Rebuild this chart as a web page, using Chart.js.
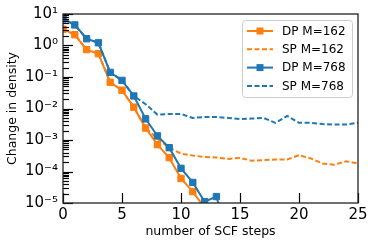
<!DOCTYPE html>
<html>
<head>
<meta charset="utf-8">
<script src="https://cdn.jsdelivr.net/npm/chart.js@4/dist/chart.umd.min.js"></script>
<style>
html, body { margin: 0; padding: 0; background: #fff; }
#wrap { width: 374px; height: 246px; }
</style>
</head>
<body>
<div id="wrap"><canvas id="scfChart"></canvas></div>
<script>
// values (change in density per SCF step)
const steps = [0, 1, 2, 3, 4, 5, 6, 7, 8, 9, 10, 11, 12, 13, 14, 15, 16, 17, 18, 19, 20, 21, 22, 23, 24, 25];
const dpM162 = [3.3, 2.2, 0.74, 0.55, 0.068, 0.038, 0.011, 0.0024, 7.1e-4, 2.75e-4, 6e-5, 2.3e-5, 7e-6];
const spM162 = [3.3, 2.2, 0.74, 0.55, 0.068, 0.038, 0.011, 0.0024, 1.1e-3, 5.7e-4, 3.7e-4, 3.2e-4, 2.9e-4,
    2.8e-4, 2.5e-4, 2.7e-4, 2.2e-4, 2.3e-4, 2.4e-4, 2.4e-4, 3.3e-4, 2.6e-4, 1.8e-4, 1.65e-4, 2.1e-4, 1.8e-4];
const dpM768 = [7.0, 4.5, 1.64, 1.22, 0.14, 0.078, 0.025, 0.0047, 1.35e-3, 5.7e-4, 1.26e-4, 4.5e-5, 1.1e-5, 1.6e-5, 8e-7];
const spM768 = [7.0, 4.5, 1.64, 1.22, 0.14, 0.078, 0.025, 0.0137, 0.0064, 0.0067, 0.0067, 0.0050, 0.0054,
    0.0054, 0.0050, 0.0046, 0.0048, 0.0050, 0.0035, 0.0058, 0.0035, 0.0035, 0.0032, 0.0031, 0.0031, 0.0035];
const xTicks = [0, 5, 10, 15, 20, 25];
const yDecades = [-5, -4, -3, -2, -1, 0, 1];
const supDigits = { '-': '⁻', '0': '⁰', '1': '¹', '2': '²', '3': '³', '4': '⁴', '5': '⁵' };

const ORANGE = '#ff7f0e';
const BLUE = '#1f77b4';
const FONT = "'DejaVu Sans', sans-serif";

function toPoints(values) {
    return values.map((v, i) => ({ x: steps[i], y: v }));
}

// inward tick marks + closed frame, like the matplotlib original
const frameAndTicks = {
    id: 'frameAndTicks',
    afterDraw(chart) {
        const ctx = chart.ctx;
        const area = chart.chartArea;
        const xs = chart.scales.x;
        const ys = chart.scales.y;
        ctx.save();
        ctx.strokeStyle = '#000';
        ctx.lineWidth = 1.2;
        ys.ticks.forEach(t => {
            const py = Math.round(ys.getPixelForValue(t.value)) + 0.5;
            const major = Math.abs(Math.log10(t.value) - Math.round(Math.log10(t.value))) < 1e-9;
            ctx.beginPath();
            ctx.moveTo(area.left, py);
            ctx.lineTo(area.left + (major ? 10 : 6), py);
            ctx.stroke();
        });
        xs.ticks.forEach(t => {
            const px = Math.round(xs.getPixelForValue(t.value)) + 0.5;
            ctx.beginPath();
            ctx.moveTo(px, area.bottom);
            ctx.lineTo(px, area.bottom - 10);
            ctx.stroke();
        });
        ctx.lineWidth = 1.3;
        ctx.strokeStyle = '#222';
        ctx.strokeRect(area.left, area.top, area.right - area.left, area.bottom - area.top);
        ctx.restore();
    }
};

// legend box drawn in the upper right of the plot area
const boxLegend = {
    id: 'boxLegend',
    afterDraw(chart) {
        const ctx = chart.ctx;
        const area = chart.chartArea;
        const right = area.right - 6;
        const top = area.top + 6;
        const w = 110, h = 77;
        const left = right - w;
        ctx.save();
        ctx.fillStyle = 'rgba(255,255,255,0.85)';
        ctx.strokeStyle = '#cccccc';
        ctx.lineWidth = 1;
        ctx.beginPath();
        ctx.roundRect(left + 0.5, top + 0.5, w, h, 3);
        ctx.fill();
        ctx.stroke();
        ctx.font = '12px ' + FONT;
        ctx.textBaseline = 'middle';
        ctx.fillStyle = '#000';
        chart.data.datasets.slice().reverse().forEach((ds, i) => {
            const cy = top + 11 + i * 18.3;
            ctx.strokeStyle = ds.borderColor;
            ctx.lineWidth = ds.borderWidth;
            ctx.setLineDash(ds.borderDash || []);
            ctx.beginPath();
            ctx.moveTo(left + 5, cy);
            ctx.lineTo(left + 31, cy);
            ctx.stroke();
            ctx.setLineDash([]);
            if (ds.pointRadius > 0) {
                ctx.fillStyle = ds.borderColor;
                ctx.fillRect(left + 18 - 3.5, cy - 3.5, 7, 7);
            }
            ctx.fillStyle = '#000';
            ctx.fillText(ds.label, left + 40, cy + 0.5);
        });
        ctx.restore();
    }
};

function lineSet(label, values, color, dashed, order) {
    return {
        label: label,
        data: toPoints(values),
        borderColor: color,
        backgroundColor: color,
        borderWidth: 2,
        borderDash: dashed ? [5, 2.5] : [],
        pointStyle: 'rect',
        pointRadius: dashed ? 0 : 4.5,
        pointBorderWidth: 1,
        pointBorderColor: color,
        pointBackgroundColor: color,
        tension: 0,
        fill: false,
        order: order
    };
}

const ctx = document.getElementById('scfChart').getContext('2d');
window.scfChart = new Chart(ctx, {
    type: 'line',
    data: {
        datasets: [
            lineSet('SP M=768', spM768, BLUE, true, 1),
            lineSet('DP M=768', dpM768, BLUE, false, 2),
            lineSet('SP M=162', spM162, ORANGE, true, 3),
            lineSet('DP M=162', dpM162, ORANGE, false, 4)
        ]
    },
    options: {
        responsive: true,
        maintainAspectRatio: false,
        animation: false,
        layout: { padding: { top: 12, right: 16, left: 0, bottom: 0 } },
        plugins: {
            legend: { display: false },
            tooltip: { enabled: false }
        },
        scales: {
            x: {
                type: 'linear',
                min: 0,
                max: 25,
                afterBuildTicks: scale => { scale.ticks = xTicks.map(v => ({ value: v })); },
                afterFit: scale => { scale.height = 43; },
                grid: { display: false, drawTicks: false },
                border: { display: false },
                ticks: {
                    color: '#000',
                    padding: 3,
                    font: { family: FONT, size: 15 },
                    maxRotation: 0
                },
                title: {
                    display: true,
                    text: 'number of SCF steps',
                    color: '#000',
                    font: { family: FONT, size: 12.5 },
                    padding: { top: 0, bottom: 7 }
                }
            },
            y: {
                type: 'logarithmic',
                min: 1e-5,
                max: 10,
                afterBuildTicks: scale => {
                    const ticks = [];
                    yDecades.forEach(d => {
                        for (let m = 1; m <= 9; m++) {
                            const v = m * Math.pow(10, d);
                            if (v <= 10 * 1.0000001) ticks.push({ value: v });
                        }
                    });
                    scale.ticks = ticks;
                },
                afterFit: scale => { scale.width = 63; },
                grid: { display: false, drawTicks: false },
                border: { display: false },
                ticks: {
                    color: '#000',
                    padding: 5,
                    autoSkip: false,
                    font: { family: FONT, size: 15 },
                    callback: value => {
                        const e = Math.log10(value);
                        if (Math.abs(e - Math.round(e)) > 1e-9) return '';
                        const sup = String(Math.round(e)).split('').map(c => supDigits[c]).join('');
                        return '10' + sup;
                    }
                },
                title: {
                    display: true,
                    text: 'Change in density',
                    color: '#000',
                    font: { family: FONT, size: 12.5 },
                    padding: { top: 5, bottom: 0 }
                }
            }
        }
    },
    plugins: [frameAndTicks, boxLegend]
});
</script>
</body>
</html>
